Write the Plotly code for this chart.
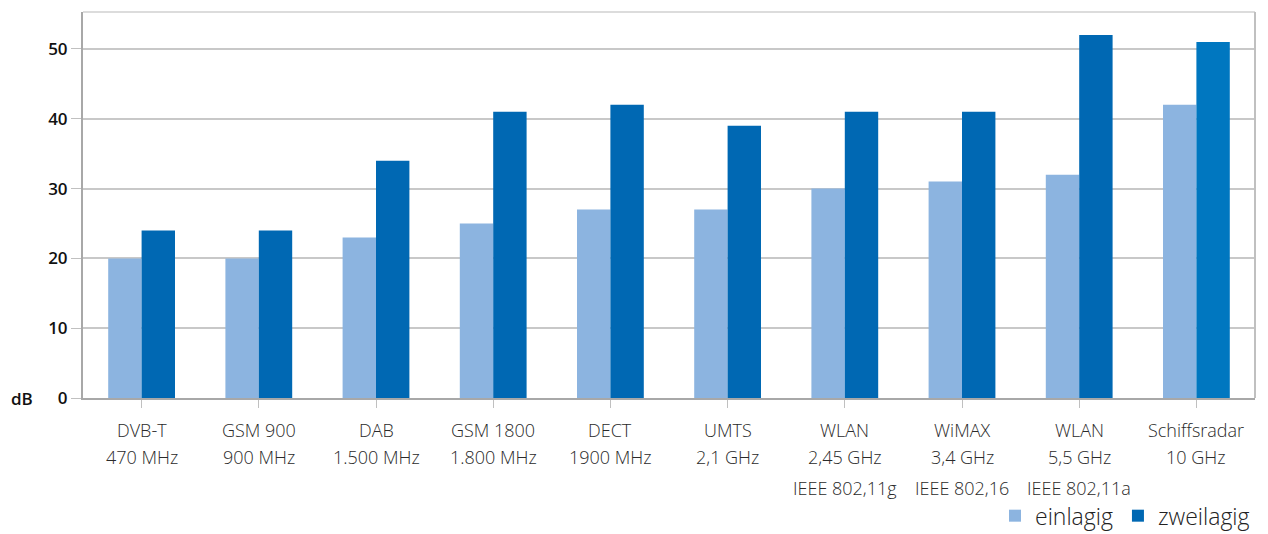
import plotly.graph_objects as go

categories = ["DVB-T", "GSM 900", "DAB", "GSM 1800", "DECT", "UMTS", "WLAN", "WiMAX", "WLAN", "Schiffsradar"]
frequencies = ["470 MHz", "900 MHz", "1.500 MHz", "1.800 MHz", "1900 MHz", "2,1 GHz",
               "2,45 GHz", "3,4 GHz", "5,5 GHz", "10 GHz"]
standards = ["", "", "", "", "", "", "IEEE 802,11g", "IEEE 802,16", "IEEE 802,11a", ""]
einlagig = [20, 20, 23, 25, 27, 27, 30, 31, 32, 42]
zweilagig = [24, 24, 34, 41, 42, 39, 41, 41, 52, 51]
y_ticks = [0, 10, 20, 30, 40, 50]

light = "#8cb4e0"
dark = "#0068b3"
dark_colors = [dark] * 9 + ["#0077c0"]
xs = list(range(len(categories)))

fig = go.Figure()
fig.add_trace(go.Bar(x=xs, y=einlagig, name="einlagig",
                     marker=dict(color=light, line=dict(width=0))))
fig.add_trace(go.Bar(x=xs, y=zweilagig, name="zweilagig",
                     marker=dict(color=dark_colors, line=dict(width=0))))

label_font = dict(family="Open Sans, sans-serif", size=18, color="#2a2a2a", weight=300)
annotations = []
for i in xs:
    for text, shift in ((categories[i], -32), (frequencies[i], -59), (standards[i], -90)):
        if text:
            annotations.append(dict(text=text, xref="x", yref="paper", x=i, y=0,
                                    xanchor="center", yanchor="middle", yshift=shift,
                                    showarrow=False, font=label_font))
annotations.append(dict(text="dB", xref="paper", yref="y", x=0, y=0, xanchor="right",
                        yanchor="middle", xshift=-48, showarrow=False,
                        font=dict(family="Open Sans, sans-serif", size=17, color="#111111", weight=600)))

# The page body has an 8px default margin; the figure is sized so it fills the window.
fig.update_layout(
    width=1260, height=526,
    margin=dict(l=75, r=13, t=4, b=136, autoexpand=False),
    paper_bgcolor="white", plot_bgcolor="white",
    barmode="group", bargap=0.43, bargroupgap=0,
    font=dict(family="Open Sans, sans-serif", color="#222222"),
    showlegend=True,
    legend=dict(orientation="h", x=1.0, xanchor="right", y=-0.305, yanchor="middle",
                font=dict(family="Open Sans, sans-serif", size=23, color="#222222", weight=300),
                traceorder="normal", bgcolor="rgba(0,0,0,0)", tracegroupgap=0),
    xaxis=dict(
        tickmode="array", tickvals=xs, showticklabels=False,
        range=[-0.5, len(categories) - 0.5],
        ticks="outside", ticklen=8, tickcolor="#c0c0c0", tickwidth=1,
        tickson="boundaries", automargin=False,
        showline=True, linecolor="#a8a8a8", linewidth=2,
        showgrid=False, zeroline=False,
    ),
    yaxis=dict(
        range=[0, 55.3], tickvals=y_ticks,
        ticktext=[str(v) for v in y_ticks],
        tickfont=dict(family="Open Sans, sans-serif", size=17, color="#111111", weight=600),
        ticks="outside", ticklen=10, tickcolor="#c0c0c0", tickwidth=1,
        showline=True, linecolor="#a8a8a8", linewidth=2, automargin=False,
        showgrid=True, gridcolor="#c8c8c8", gridwidth=1.5,
        zeroline=False,
    ),
    shapes=[
        dict(type="line", xref="paper", yref="paper", x0=0, x1=1, y0=1, y1=1,
             line=dict(color="#d0d0d0", width=1.5)),
        dict(type="line", xref="paper", yref="paper", x0=1, x1=1, y0=0, y1=1,
             line=dict(color="#c0c0c0", width=2)),
    ],
    annotations=annotations,
)

fig.write_html("out.html")
